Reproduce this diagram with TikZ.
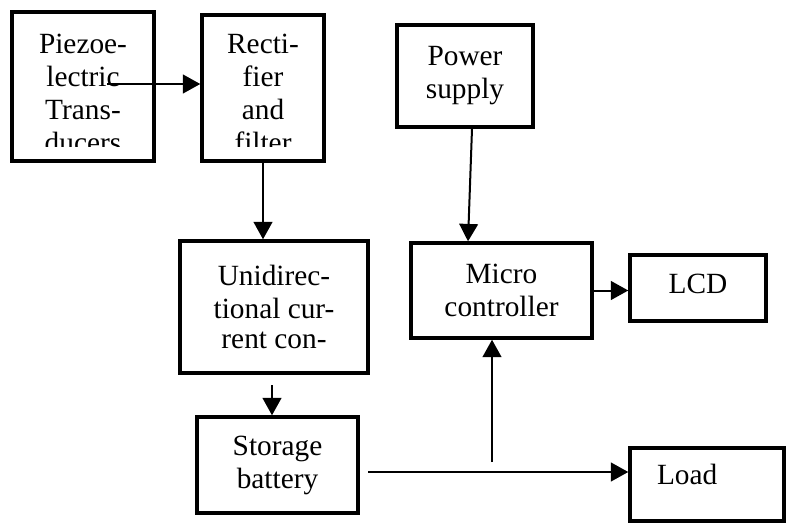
\documentclass[tikz,border=0pt]{standalone}
\usepackage{fontspec}
\setmainfont{Liberation Serif}
\usepackage{tikz}
\usetikzlibrary{calc,positioning}
\usetikzlibrary{shapes.geometric, arrows.meta}
\tikzstyle{block} = [rectangle, draw=black, line width=2.6pt, inner sep=0pt, align=center, font=\fontsize{22}{24.75}\selectfont]
\tikzstyle{boxtext} = [inner sep=0pt, align=center, font=\fontsize{22}{24.75}\selectfont]
\tikzstyle{arrow} = [line width=1.5pt, -{Triangle[length=13pt, width=14pt]}]

\begin{document}
\begin{tikzpicture}[x=0.75pt, y=-0.75pt]
\useasboundingbox (0,0) rectangle (787,524);

% Nodes
\node (piezo) [block, minimum width=106.5pt, minimum height=111.75pt] at (83,86.5) {};
\node (rect) [block, minimum width=91.5pt, minimum height=109.5pt] at (263,88) {};
\node (power) [block, minimum width=102pt, minimum height=76.5pt] at (465,76) {Power\\supply};
\node (unidir) [block, minimum width=141pt, minimum height=99pt] at (274,307) {Unidirec-\\tional cur-\\[-2pt]rent con-};
\node (micro) [block, minimum width=135.75pt, minimum height=71.25pt] at (501.5,290.5) {Micro\\controller};
\node (lcd) [block, minimum width=102pt, minimum height=49.5pt, text height=11pt, text depth=3.5pt] at (698,288) {LCD};
\node (storage) [block, minimum width=120.75pt, minimum height=72pt] at (277.5,465) {Storage\\battery};
\node (load) [block, minimum width=115.5pt, minimum height=54.75pt, align=left, text width=75pt, inner xsep=20.25pt, text height=10pt, text depth=10pt] at (707,484.5) {Load};

% Texts cut off at the box bottom
\begin{scope}
\clip (12,12) rectangle (324,146);
\node (piezotext) [boxtext] at (83,93.5) {Piezoe-\\lectric\\Trans-\\ducers};
\node (recttext) [boxtext] at (263,93) {Recti-\\fier\\and\\filter};
\end{scope}

% Arrows
\coordinate (piezoout) at (107,84);
\coordinate (unidirout) at (272,385);
\coordinate (battout) at (368,472);
\coordinate (tap) at (492,462);
\draw [arrow] (piezoout) -- (piezoout -| rect.west);
\draw [arrow] (rect.south) -- (rect.south |- unidir.north);
\draw [arrow] ($(power.south)+(7,0)$) -- ($(micro.north)+(-33.5,0)$);
\draw [arrow] (unidirout) -- (unidirout |- storage.north);
\draw [arrow] (battout) -- (battout -| load.west);
\draw [arrow] (tap) -- (tap |- micro.south);
\draw [arrow] (micro.east) -- (micro.east -| lcd.west);

\end{tikzpicture}
\end{document}
